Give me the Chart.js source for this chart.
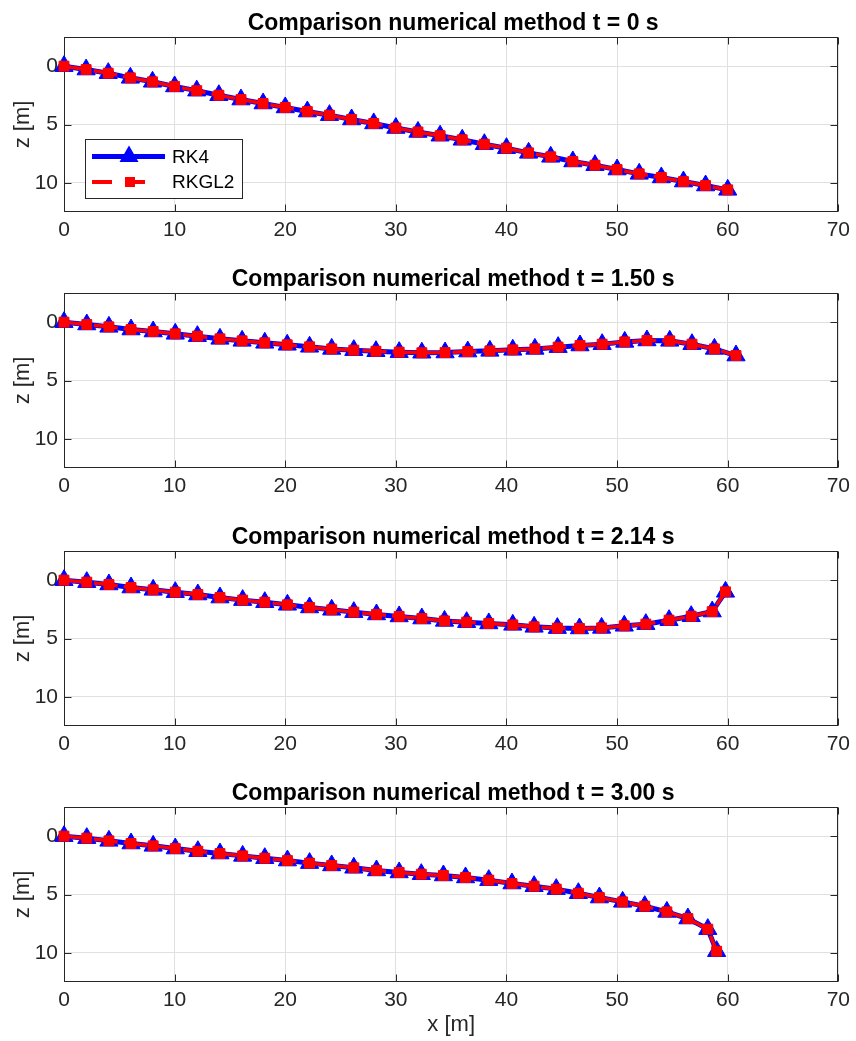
<!DOCTYPE html>
<html>
<head>
<meta charset="utf-8">
<title>Comparison numerical method</title>
<script src="https://cdn.jsdelivr.net/npm/chart.js@4/dist/chart.umd.min.js"></script>
<style>
    html, body { margin: 0; padding: 0; background: #fff; }
    #wrap { position: relative; width: 856px; height: 1041px; }
    #wrap canvas { position: absolute; left: 0; }
</style>
</head>
<body>
<div id="wrap">
    <canvas id="c0"></canvas>
    <canvas id="c1"></canvas>
    <canvas id="c2"></canvas>
    <canvas id="c3"></canvas>
</div>
<script>
// shape of the line at each time (x and z in metres), RK4 and RKGL2 overlap
var xT0 = [0, 2, 4, 6, 8, 10, 12, 14, 16, 18, 20, 22, 24, 26, 28, 30, 32, 34, 36, 38, 40, 42, 44, 46, 48, 50, 52, 54, 56, 58, 60];
var zT0 = [0, 0.29, 0.6, 1.0, 1.34, 1.74, 2.1, 2.49, 2.86, 3.2, 3.54, 3.89, 4.2, 4.57, 4.91, 5.3, 5.64, 5.96, 6.31, 6.69, 7.03, 7.43, 7.77, 8.17, 8.49, 8.86, 9.23, 9.54, 9.89, 10.23, 10.6];

var xT150 = [0, 2.06, 4.06, 6.06, 8.06, 10.06, 12.06, 14.1, 16.1, 18.15, 20.18, 22.2, 24.2, 26.2, 28.2, 30.3, 32.35, 34.45, 36.5, 38.5, 40.57, 42.57, 44.67, 46.65, 48.65, 50.69, 52.7, 54.76, 56.77, 58.8, 60.75];
var zT150 = [0, 0.2, 0.4, 0.63, 0.8, 1.0, 1.2, 1.43, 1.6, 1.77, 1.94, 2.11, 2.29, 2.4, 2.49, 2.57, 2.62, 2.6, 2.52, 2.46, 2.37, 2.29, 2.14, 2.0, 1.89, 1.69, 1.57, 1.6, 1.89, 2.29, 2.86];

var xT214 = [0, 2.06, 4.06, 6.06, 8.06, 10.06, 12.1, 14.1, 16.15, 18.15, 20.2, 22.2, 24.2, 26.2, 28.25, 30.3, 32.35, 34.4, 36.4, 38.4, 40.57, 42.5, 44.6, 46.6, 48.6, 50.65, 52.6, 54.7, 56.7, 58.6, 59.8];
var zT214 = [0, 0.17, 0.37, 0.63, 0.83, 1.03, 1.23, 1.49, 1.71, 1.89, 2.11, 2.34, 2.54, 2.74, 2.94, 3.11, 3.29, 3.49, 3.6, 3.71, 3.83, 4.0, 4.11, 4.14, 4.09, 3.91, 3.77, 3.43, 3.09, 2.69, 1.0];

var xT300 = [0, 2.06, 4.06, 6.06, 8.06, 10.06, 12.1, 14.1, 16.15, 18.15, 20.2, 22.2, 24.2, 26.2, 28.25, 30.3, 32.3, 34.3, 36.3, 38.4, 40.5, 42.5, 44.5, 46.5, 48.4, 50.5, 52.5, 54.5, 56.4, 58.2, 59.0];
var zT300 = [0, 0.17, 0.4, 0.63, 0.83, 1.06, 1.29, 1.49, 1.69, 1.89, 2.09, 2.31, 2.51, 2.71, 2.94, 3.11, 3.26, 3.37, 3.54, 3.77, 4.06, 4.29, 4.54, 4.89, 5.26, 5.63, 6.0, 6.49, 7.06, 7.97, 9.86];

var titles = [
    'Comparison numerical method t = 0 s',
    'Comparison numerical method t = 1.50 s',
    'Comparison numerical method t = 2.14 s',
    'Comparison numerical method t = 3.00 s'
];
var methods = ['RK4', 'RKGL2'];
var xTicks = [0, 10, 20, 30, 40, 50, 60, 70];
var yTicks = [0, 5, 10];

var panels = [[xT0, zT0], [xT150, zT150], [xT214, zT214], [xT300, zT300]];
var canvasTop = [0, 256, 514, 770];
var canvasH = [256, 258, 256, 271];
var FONT = '"Liberation Sans", Arial, sans-serif';
var AXIS = '#262626';

// box round the axes, inward ticks on all four sides, bold title
var matlabAxes = {
    id: 'matlabAxes',
    beforeDatasetsDraw: function (chart, args, opts) {
        var ctx = chart.ctx, a = chart.chartArea, sx = chart.scales.x, sy = chart.scales.y;
        var l = Math.round(a.left) + 0.5, r = Math.round(a.right) - 0.5;
        var t = Math.round(a.top) + 0.5, b = Math.round(a.bottom) - 0.5;
        ctx.save();
        ctx.strokeStyle = AXIS;
        ctx.lineWidth = 1;
        ctx.strokeRect(l, t, r - l, b - t);
        ctx.beginPath();
        sx.ticks.forEach(function (tk) {
            var px = Math.round(sx.getPixelForValue(tk.value)) + 0.5;
            ctx.moveTo(px, b); ctx.lineTo(px, b - 7);
            ctx.moveTo(px, t); ctx.lineTo(px, t + 7);
        });
        sy.ticks.forEach(function (tk) {
            var py = Math.round(sy.getPixelForValue(tk.value)) + 0.5;
            ctx.moveTo(l, py); ctx.lineTo(l + 7, py);
            ctx.moveTo(r, py); ctx.lineTo(r - 7, py);
        });
        ctx.stroke();
        ctx.fillStyle = '#000';
        ctx.font = 'bold 23px ' + FONT;
        ctx.textAlign = 'center';
        ctx.textBaseline = 'alphabetic';
        ctx.fillText(opts.text, (a.left + a.right) / 2 + 2, a.top - 7);
        ctx.restore();
    }
};

function tri(ctx, x, y, r) {
    ctx.beginPath();
    ctx.moveTo(x, y - r);
    ctx.lineTo(x + r * 0.866, y + r / 2);
    ctx.lineTo(x - r * 0.866, y + r / 2);
    ctx.closePath();
    ctx.fill();
}

// legend box inside the first panel
var boxLegend = {
    id: 'boxLegend',
    afterDatasetsDraw: function (chart, args, opts) {
        if (!opts.display) return;
        var ctx = chart.ctx;
        var bx = 85, by = 139, bw = 157, bh = 59;
        var ds = chart.data.datasets;
        ctx.save();
        ctx.fillStyle = '#fff';
        ctx.fillRect(bx, by, bw, bh);
        ctx.strokeStyle = AXIS;
        ctx.lineWidth = 1;
        ctx.strokeRect(bx + 0.5, by + 0.5, bw, bh);

        // RK4
        var y1 = by + 17.5;
        ctx.strokeStyle = ds[0].borderColor;
        ctx.fillStyle = ds[0].borderColor;
        ctx.lineWidth = ds[0].borderWidth;
        ctx.beginPath(); ctx.moveTo(92, y1); ctx.lineTo(165, y1); ctx.stroke();
        tri(ctx, 129, y1, 11);

        // RKGL2
        var y2 = by + 43;
        ctx.strokeStyle = ds[1].borderColor;
        ctx.fillStyle = ds[1].borderColor;
        ctx.lineWidth = 4;
        ctx.setLineDash([20, 13]);
        ctx.beginPath(); ctx.moveTo(92, y2); ctx.lineTo(148, y2); ctx.stroke();
        ctx.setLineDash([]);
        ctx.fillRect(125, y2 - 5, 10, 10);

        ctx.fillStyle = '#000';
        ctx.font = '19px ' + FONT;
        ctx.textAlign = 'left';
        ctx.textBaseline = 'middle';
        ctx.fillText(ds[0].label, 172, y1 + 1);
        ctx.fillText(ds[1].label, 172, y2 + 1);
        ctx.restore();
    }
};

function makeChart(i) {
    var canvas = document.getElementById('c' + i);
    canvas.width = 856;
    canvas.height = canvasH[i];
    canvas.style.top = canvasTop[i] + 'px';
    var xs = panels[i][0], zs = panels[i][1];
    var pts = xs.map(function (v, k) { return { x: v, y: zs[k] }; });
    var h = canvasH[i];

    return new Chart(canvas, {
        type: 'line',
        data: {
            datasets: [{
                label: methods[0],
                data: pts,
                borderColor: '#0000FF',
                backgroundColor: '#0000FF',
                borderWidth: 5,
                pointStyle: 'triangle',
                pointRadius: 10.5,
                pointBorderWidth: 1,
                pointBackgroundColor: '#0000FF',
                pointBorderColor: '#0000FF',
                tension: 0,
                clip: false,
                order: 1
            }, {
                label: methods[1],
                data: pts,
                borderColor: '#FF0000',
                backgroundColor: '#FF0000',
                borderWidth: 3.5,
                borderDash: [24, 6],
                pointStyle: 'rect',
                pointRadius: 7,
                pointBorderWidth: 1,
                pointBackgroundColor: '#FF0000',
                pointBorderColor: '#FF0000',
                tension: 0,
                clip: false,
                order: 0
            }]
        },
        options: {
            responsive: false,
            animation: false,
            events: [],
            layout: { padding: { top: 37, left: 0, right: 13, bottom: 0 } },
            scales: {
                x: {
                    type: 'linear',
                    min: 0,
                    max: 70,
                    afterBuildTicks: function (s) { s.ticks = xTicks.map(function (v) { return { value: v }; }); },
                    afterFit: function (s) { s.height = h - 212; },
                    grid: { color: '#E0E0E0', drawTicks: false },
                    border: { display: false },
                    ticks: { color: AXIS, font: { size: 21, family: FONT }, padding: 6, maxRotation: 0, autoSkip: false },
                    title: {
                        display: i === 3,
                        text: 'x [m]',
                        color: AXIS,
                        font: { size: 22, family: FONT, lineHeight: 1.2 },
                        padding: { top: 0, bottom: 3 }
                    }
                },
                y: {
                    type: 'linear',
                    min: -2.5,
                    max: 12.5,
                    reverse: true,
                    afterBuildTicks: function (s) { s.ticks = yTicks.map(function (v) { return { value: v }; }); },
                    afterFit: function (s) { s.width = 64; },
                    grid: { color: '#E0E0E0', drawTicks: false },
                    border: { display: false },
                    ticks: { color: AXIS, font: { size: 21, family: FONT }, padding: 6 },
                    title: {
                        display: true,
                        text: 'z [m]',
                        color: AXIS,
                        font: { size: 22, family: FONT, lineHeight: 1.2 },
                        padding: { top: 10, bottom: 0 }
                    }
                }
            },
            plugins: {
                legend: { display: false },
                tooltip: { enabled: false },
                matlabAxes: { text: titles[i] },
                boxLegend: { display: i === 0 }
            }
        },
        plugins: [matlabAxes, boxLegend]
    });
}

for (var i = 0; i < 4; i++) {
    makeChart(i);
}
</script>
</body>
</html>
